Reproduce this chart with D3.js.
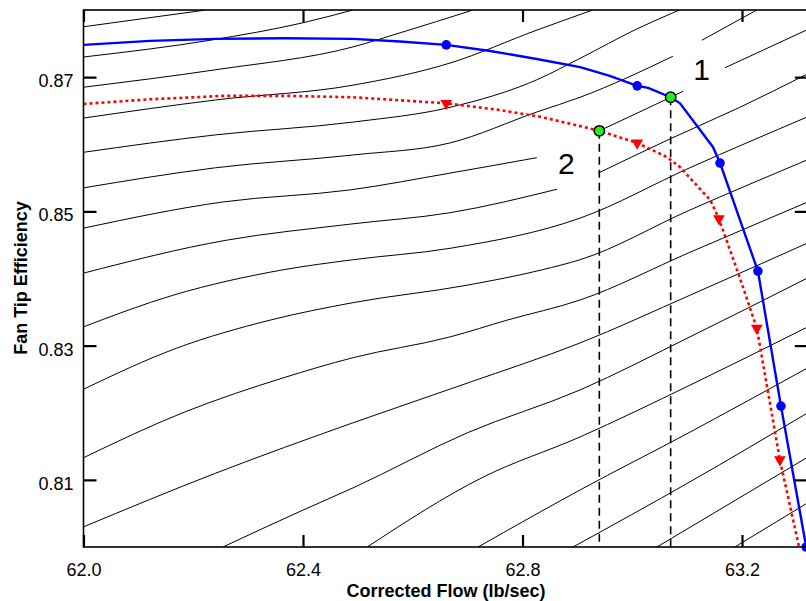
<!DOCTYPE html>
<html>
<head>
<meta charset="utf-8">
<script src="https://cdn.jsdelivr.net/npm/d3@7"></script>
<style>
  body { margin: 0; background: #fff; }
  text { font-family: "Liberation Sans", Arial, sans-serif; }
</style>
</head>
<body>
<div id="chart"></div>
<script>
// ticks
var xTicks = [62.0, 62.4, 62.8, 63.2];
var yTicks = [0.81, 0.83, 0.85, 0.87];

// background map lines (null = break for the labels)
var mapLines = [
  [[62.0,0.8775],[62.223,0.8800]],
  [[62.0,0.8730],[62.231,0.8755],[62.400,0.8781],[62.491,0.8800]],
  [[62.0,0.8685],[62.241,0.8711],[62.491,0.8745],[62.577,0.8766],[62.710,0.8800]],
  [[62.0,0.8639],[62.241,0.8666],[62.491,0.8688],[62.668,0.8721],[62.826,0.8770],[62.928,0.8800]],
  [[62.0,0.8588],[62.241,0.8614],[62.491,0.8633],[62.668,0.8655],[62.826,0.8696],[62.905,0.8728],[63.009,0.8772],[63.086,0.8800]],
  [[62.0,0.8535],[62.241,0.8565],[62.491,0.8584],[62.668,0.8602],[62.826,0.8648],[62.905,0.8670],[63.074,0.8731],null,[63.127,0.8755],[63.227,0.8800]],
  [[62.0,0.8475],[62.254,0.8514],[62.486,0.8532],[62.668,0.8557],[62.826,0.8580],null,[62.94,0.862],[63.07,0.867],[63.093,0.8679],null,[63.169,0.8714],[63.320,0.8771]],
  [[62.0,0.8408],[62.260,0.8457],[62.486,0.8481],[62.668,0.8498],[62.863,0.8533],null,[62.938,0.8557],[63.069,0.8608],[63.196,0.8655],[63.320,0.8705]],
  [[62.0,0.8328],[62.163,0.8375],[62.364,0.8413],[62.491,0.8428],[62.668,0.8445],[62.905,0.8490],[63.105,0.8565],[63.320,0.8641]],
  [[62.0,0.8235],[62.169,0.8296],[62.340,0.8338],[62.491,0.8364],[62.699,0.8390],[62.836,0.8413],[62.905,0.8428],[63.105,0.8502],[63.320,0.8577]],
  [[62.0,0.8133],[62.181,0.8200],[62.364,0.8252],[62.491,0.8282],[62.668,0.8313],[62.772,0.8338],[62.905,0.8368],[63.105,0.8439],[63.320,0.8514]],
  [[62.0,0.8030],[62.241,0.8110],[62.491,0.8185],[62.699,0.8244],[62.905,0.8304],[63.105,0.8375],[63.320,0.8453]],
  [[62.254,0.8000],[62.400,0.8055],[62.491,0.8088],[62.699,0.8170],[62.905,0.8234],[63.105,0.8313],[63.320,0.8401]],
  [[62.517,0.8000],[62.728,0.8104],[62.905,0.8164],[63.105,0.8241],[63.320,0.8328]],
  [[62.719,0.8000],[62.905,0.8085],[63.105,0.8171],[63.320,0.8267]],
  [[62.892,0.8000],[63.105,0.8097],[63.320,0.8200]],
  [[63.045,0.8000],[63.320,0.8134]],
  [[63.187,0.8000],[63.320,0.8066]]
];

// characteristic 1 (blue, solid)
var blueLine = [[62.0,0.8748],[62.121,0.8754],[62.241,0.8757],[62.364,0.8758],[62.491,0.8757],
  [62.577,0.8753],[62.661,0.8748],[62.741,0.8739],[62.826,0.8727],[62.905,0.8715],[62.959,0.8702],
  [63.009,0.8687],[63.029,0.8684],[63.07,0.8670],[63.087,0.8661],[63.147,0.8596],[63.160,0.8572],
  [63.202,0.8474],[63.229,0.8411],[63.271,0.8210],[63.317,0.8000]];
var blueMarks = [[62.661,0.8748],[63.009,0.8687],[63.160,0.8572],[63.229,0.8411],[63.271,0.8210],[63.317,0.8000]];

// characteristic 2 (red, dotted)
var redLine = [[62.0,0.8660],[62.121,0.8667],[62.254,0.8672],[62.376,0.8672],[62.491,0.8670],
  [62.661,0.8661],[62.759,0.8651],[62.832,0.8641],[62.905,0.8627],[62.94,0.8620],[63.009,0.8602],
  [63.063,0.8581],[63.087,0.8566],[63.142,0.8517],[63.158,0.8489],[63.196,0.8401],[63.227,0.8326],
  [63.269,0.8130],[63.304,0.8000]];
var redMarks = [[62.661,0.8661],[63.009,0.8602],[63.158,0.8489],[63.227,0.8326],[63.269,0.8130]];

// operating points
var opNames = ["1", "2"];
var opFlow = [63.07, 62.94];
var opEff = [0.867, 0.862];

var svgWidth = 806;
var svgHeight = 601;

var svg = d3.select("#chart")
    .append("svg")
    .attr("width", svgWidth)
    .attr("height", svgHeight);

var x = d3.scaleLinear().domain([62.0, 63.2]).range([83.5, 742]);
var y = d3.scaleLinear().domain([0.80, 0.88]).range([547, 10]);
var xMax = 63.32;

var plotLeft = x(62.0), plotRight = x(xMax), plotTop = y(0.88), plotBottom = y(0.80);

svg.append("clipPath").attr("id", "plot")
    .append("rect")
    .attr("x", plotLeft).attr("y", plotTop)
    .attr("width", plotRight - plotLeft).attr("height", plotBottom - plotTop);

var plot = svg.append("g").attr("clip-path", "url(#plot)");

var line = d3.line()
    .defined(d => d !== null)
    .x(d => x(d[0]))
    .y(d => y(d[1]));

plot.selectAll(".map")
    .data(mapLines)
    .enter().append("path")
    .attr("class", "map")
    .attr("d", line.curve(d3.curveMonotoneX))
    .attr("fill", "none")
    .attr("stroke", "#000")
    .attr("stroke-width", 1);

line.curve(d3.curveLinear);

// drop lines
plot.selectAll(".drop")
    .data(opFlow)
    .enter().append("line")
    .attr("x1", d => x(d)).attr("x2", d => x(d))
    .attr("y1", (d, i) => y(opEff[i])).attr("y2", plotBottom)
    .attr("stroke", "#000")
    .attr("stroke-width", 1.6)
    .attr("stroke-dasharray", "8,5");

plot.append("path")
    .attr("d", line(redLine))
    .attr("fill", "none")
    .attr("stroke", "#ff0000")
    .attr("stroke-width", 2.6)
    .attr("stroke-dasharray", "3,3");

plot.append("path")
    .attr("d", line(blueLine))
    .attr("fill", "none")
    .attr("stroke", "#0000ff")
    .attr("stroke-width", 2.4);

svg.selectAll(".bm")
    .data(blueMarks)
    .enter().append("circle")
    .attr("cx", d => x(d[0]))
    .attr("cy", d => y(d[1]))
    .attr("r", 4.8)
    .attr("fill", "#0000ff");

svg.selectAll(".rm")
    .data(redMarks)
    .enter().append("path")
    .attr("d", d3.symbol(d3.symbolTriangle, 60))
    .attr("transform", d => `translate(${x(d[0])},${y(d[1])}) rotate(180)`)
    .attr("fill", "#ff0000");

svg.selectAll(".op")
    .data(opFlow)
    .enter().append("circle")
    .attr("cx", d => x(d))
    .attr("cy", (d, i) => y(opEff[i]))
    .attr("r", 5.2)
    .attr("fill", "#22ee22")
    .attr("stroke", "#000")
    .attr("stroke-width", 1.5);

var labelShift = [[31, -17], [-33, 43]];
svg.selectAll(".oplabel")
    .data(opNames)
    .enter().append("text")
    .attr("x", (d, i) => x(opFlow[i]) + labelShift[i][0])
    .attr("y", (d, i) => y(opEff[i]) + labelShift[i][1])
    .attr("text-anchor", "middle")
    .attr("font-size", 30)
    .text(d => d);

// axes, ticks pointing in
var bottomAxis = d3.axisBottom(x).tickValues(xTicks).tickFormat(d3.format(".1f"))
    .tickSizeInner(-12).tickSizeOuter(0).tickPadding(16);
var topAxis = d3.axisTop(x).tickValues(xTicks).tickFormat("")
    .tickSizeInner(-12).tickSizeOuter(0);
var leftAxis = d3.axisLeft(y).tickValues(yTicks).tickFormat(d3.format(".2f"))
    .tickSizeInner(-13).tickSizeOuter(0).tickPadding(10);
var rightAxis = d3.axisRight(y).tickValues(yTicks).tickFormat("")
    .tickSizeInner(-13).tickSizeOuter(0);

function styleAxis(g) {
  g.select(".domain").remove();
  g.selectAll(".tick line").attr("stroke", "#000").attr("stroke-width", 2.2);
  g.selectAll(".tick text").attr("fill", "#000").attr("font-size", 18)
    .attr("font-family", "'Liberation Sans', Arial, sans-serif");
}

svg.append("g").attr("transform", `translate(0,${plotBottom})`).call(bottomAxis).call(styleAxis);
svg.append("g").attr("transform", `translate(0,${plotTop})`).call(topAxis).call(styleAxis);
svg.append("g").attr("transform", `translate(${plotLeft},0)`).call(leftAxis).call(styleAxis)
    .selectAll(".tick text").attr("dy", "0.53em");
svg.append("g").attr("transform", `translate(${plotRight},0)`).call(rightAxis).call(styleAxis);

svg.append("rect")
    .attr("x", plotLeft).attr("y", plotTop)
    .attr("width", plotRight - plotLeft).attr("height", plotBottom - plotTop)
    .attr("fill", "none")
    .attr("stroke", "#000")
    .attr("stroke-width", 1.6);

svg.append("text")
    .attr("x", 446)
    .attr("y", 597)
    .attr("text-anchor", "middle")
    .attr("font-size", 18)
    .attr("font-weight", "bold")
    .text("Corrected Flow (lb/sec)");

svg.append("text")
    .attr("transform", "translate(27,278) rotate(-90)")
    .attr("text-anchor", "middle")
    .attr("font-size", 18)
    .attr("font-weight", "bold")
    .text("Fan Tip Efficiency");
</script>
</body>
</html>
